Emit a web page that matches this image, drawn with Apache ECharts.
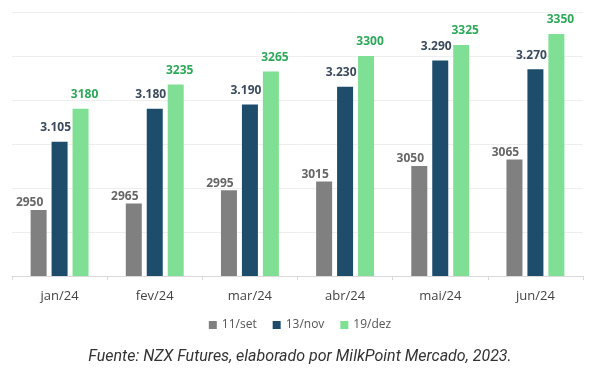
<!DOCTYPE html>
<html>
<head>
<meta charset="utf-8">
<script src="https://cdn.jsdelivr.net/npm/echarts@6/dist/echarts.min.js"></script>
<style>html,body{margin:0;padding:0;background:#fff}#c{width:600px;height:379px}</style>
</head>
<body>
<div id="c"></div>
<script>
const categories = ['jan/24','fev/24','mar/24','abr/24','mai/24','jun/24'];
const seriesNames = ['11/set','13/nov','19/dez'];
const set11 = [2950,2965,2995,3015,3050,3065];
const nov13 = [3105,3180,3190,3230,3290,3270];
const dez19 = [3180,3235,3265,3300,3325,3350];
const caption = 'Fuente: NZX Futures, elaborado por MilkPoint Mercado, 2023.';

const chart = echarts.init(document.getElementById('c'));
const fmtDot = p => { const s = String(p.value); return s.slice(0, s.length-3) + '.' + s.slice(-3); };
const lbl = (color, dx, dist, fmt) => ({
  show: true, position: 'top', distance: dist, offset: [dx, 0],
  color: color, fontFamily: 'Open Sans', fontWeight: 'bold', fontSize: 12,
  formatter: fmt || '{c}'
});
chart.setOption({
  animation: false,
  grid: { left: 12, right: 17, top: 12, bottom: 103, containLabel: false },
  legend: {
    data: seriesNames, bottom: 43, left: 'center', icon: 'rect', itemWidth: 8, itemHeight: 8, itemGap: 16,
    textStyle: { fontFamily: 'Open Sans', fontSize: 12, color: '#555' }
  },
  xAxis: {
    type: 'category', data: categories,
    axisLine: { lineStyle: { color: '#d9d9d9' } },
    axisTick: { show: true, lineStyle: { color: '#d9d9d9' }, length: 4 },
    axisLabel: { fontFamily: 'Open Sans', fontSize: 13, color: '#444', margin: 14 }
  },
  yAxis: {
    type: 'value', min: 2800, max: 3400, interval: 100,
    axisLabel: { show: false }, axisLine: { show: false }, axisTick: { show: false },
    splitLine: { lineStyle: { color: '#eeeeee' } }
  },
  series: [
    { name: seriesNames[0], type: 'bar', data: set11, barWidth: 16, barGap: '31%',
      itemStyle: { color: '#808080' }, label: lbl('#666666', -9, 1) },
    { name: seriesNames[1], type: 'bar', data: nov13, barWidth: 16, barGap: '31%',
      itemStyle: { color: '#1e4d6b' }, label: lbl('#3b4a5c', -4, 8, fmtDot) },
    { name: seriesNames[2], type: 'bar', data: dez19, barWidth: 16, barGap: '31%',
      itemStyle: { color: '#7fe095' }, label: lbl('#2ea85a', 4, 8) }
  ],
  graphic: [{
    type: 'text', left: 'center', top: 349,
    style: { text: caption, font: 'italic 16px Roboto', fill: '#333' }
  }]
});
</script>
</body>
</html>
